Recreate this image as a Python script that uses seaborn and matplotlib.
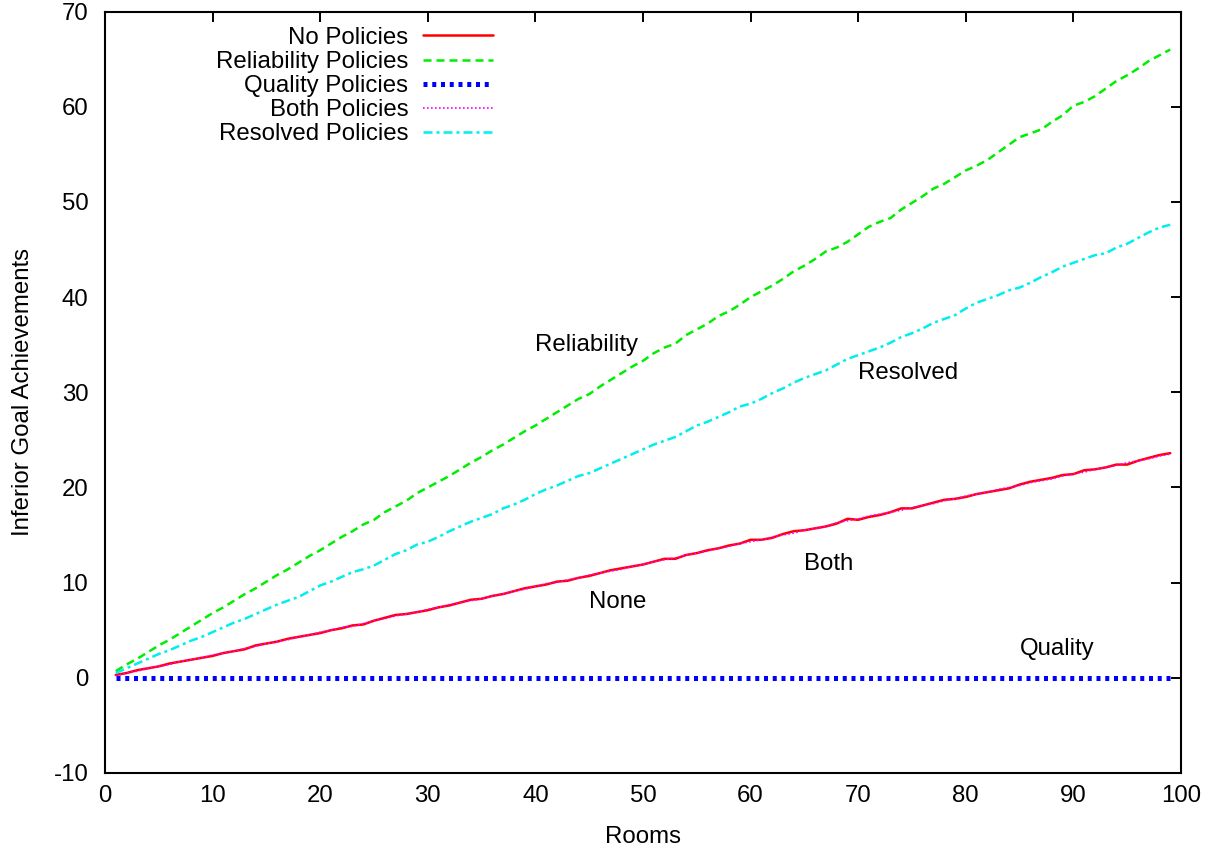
import numpy as np
import pandas as pd
import seaborn as sns
import matplotlib
matplotlib.use("Agg")
import matplotlib.pyplot as plt

sns.set_theme(style="white")
plt.rcParams["font.family"] = ["Liberation Sans", "DejaVu Sans"]
plt.rcParams["text.color"] = "black"
plt.rcParams["axes.labelcolor"] = "black"
plt.rcParams["axes.unicode_minus"] = False

rooms = list(range(1, 100))

no_policies = [
    0.3, 0.5, 0.8, 1.0, 1.2, 1.5, 1.7, 1.9, 2.1, 2.3,
    2.6, 2.8, 3.0, 3.4, 3.6, 3.8, 4.1, 4.3, 4.5, 4.7,
    5.0, 5.2, 5.5, 5.6, 6.0, 6.3, 6.6, 6.7, 6.9, 7.1,
    7.4, 7.6, 7.9, 8.2, 8.3, 8.6, 8.8, 9.1, 9.4, 9.6,
    9.8, 10.1, 10.2, 10.5, 10.7, 11.0, 11.3, 11.5, 11.7, 11.9,
    12.2, 12.5, 12.5, 12.9, 13.1, 13.4, 13.6, 13.9, 14.1, 14.5,
    14.5, 14.7, 15.1, 15.4, 15.5, 15.7, 15.9, 16.2, 16.7, 16.6,
    16.9, 17.1, 17.4, 17.8, 17.8, 18.1, 18.4, 18.7, 18.8, 19.0,
    19.3, 19.5, 19.7, 19.9, 20.3, 20.6, 20.8, 21.0, 21.3, 21.4,
    21.8, 21.9, 22.1, 22.4, 22.4, 22.8, 23.1, 23.4, 23.6,
]

reliability = [
    0.7, 1.4, 2.0, 2.7, 3.4, 4.0, 4.7, 5.4, 6.1, 6.8,
    7.4, 8.1, 8.8, 9.4, 10.1, 10.8, 11.4, 12.1, 12.8, 13.4,
    14.1, 14.8, 15.4, 16.1, 16.6, 17.4, 18.0, 18.6, 19.4, 20.0,
    20.6, 21.2, 21.9, 22.6, 23.2, 23.9, 24.5, 25.2, 25.9, 26.5,
    27.2, 27.9, 28.6, 29.3, 29.8, 30.6, 31.3, 32.0, 32.7, 33.3,
    34.1, 34.7, 35.1, 36.0, 36.6, 37.2, 38.0, 38.5, 39.2, 40.0,
    40.6, 41.2, 41.9, 42.7, 43.3, 44.0, 44.8, 45.2, 45.8, 46.6,
    47.4, 47.9, 48.3, 49.2, 49.9, 50.6, 51.4, 51.9, 52.6, 53.3,
    53.8, 54.4, 55.2, 56.0, 56.8, 57.2, 57.6, 58.4, 59.1, 60.1,
    60.5, 61.1, 61.9, 62.7, 63.3, 64.0, 64.8, 65.4, 66.0,
]

quality = [
    0, 0, 0, 0, 0, 0, 0, 0, 0, 0,
    0, 0, 0, 0, 0, 0, 0, 0, 0, 0,
    0, 0, 0, 0, 0, 0, 0, 0, 0, 0,
    0, 0, 0, 0, 0, 0, 0, 0, 0, 0,
    0, 0, 0, 0, 0, 0, 0, 0, 0, 0,
    0, 0, 0, 0, 0, 0, 0, 0, 0, 0,
    0, 0, 0, 0, 0, 0, 0, 0, 0, 0,
    0, 0, 0, 0, 0, 0, 0, 0, 0, 0,
    0, 0, 0, 0, 0, 0, 0, 0, 0, 0,
    0, 0, 0, 0, 0, 0, 0, 0, 0,
]

both = [
    0.2, 0.5, 0.7, 1.0, 1.2, 1.4, 1.7, 1.9, 2.1, 2.4,
    2.6, 2.8, 3.1, 3.3, 3.6, 3.8, 4.0, 4.3, 4.5, 4.8,
    5.0, 5.3, 5.4, 5.7, 6.0, 6.2, 6.5, 6.7, 6.9, 7.2,
    7.4, 7.7, 7.9, 8.1, 8.3, 8.6, 8.8, 9.1, 9.3, 9.6,
    9.9, 10.0, 10.3, 10.5, 10.8, 11.0, 11.2, 11.4, 11.7, 11.9,
    12.2, 12.4, 12.6, 12.9, 13.1, 13.3, 13.6, 13.8, 14.1, 14.3,
    14.5, 14.8, 15.0, 15.2, 15.5, 15.7, 15.9, 16.3, 16.5, 16.7,
    17.0, 17.2, 17.4, 17.6, 17.9, 18.1, 18.3, 18.6, 18.8, 19.1,
    19.3, 19.5, 19.8, 20.0, 20.2, 20.5, 20.7, 20.9, 21.2, 21.4,
    21.6, 21.9, 22.1, 22.3, 22.6, 22.8, 23.0, 23.3, 23.5,
]

resolved = [
    0.5, 1.0, 1.5, 2.0, 2.5, 2.9, 3.4, 3.9, 4.3, 4.8,
    5.3, 5.8, 6.2, 6.7, 7.2, 7.7, 8.1, 8.5, 9.1, 9.7,
    10.1, 10.6, 11.1, 11.4, 11.8, 12.4, 13.0, 13.4, 14.0, 14.3,
    14.8, 15.4, 15.9, 16.4, 16.8, 17.2, 17.8, 18.2, 18.7, 19.3,
    19.8, 20.2, 20.7, 21.2, 21.5, 22.0, 22.5, 23.0, 23.5, 24.0,
    24.5, 24.9, 25.3, 25.9, 26.5, 26.9, 27.4, 27.9, 28.5, 28.8,
    29.3, 29.9, 30.4, 31.0, 31.5, 31.9, 32.3, 32.9, 33.5, 33.9,
    34.3, 34.7, 35.2, 35.8, 36.2, 36.7, 37.3, 37.7, 38.1, 38.8,
    39.4, 39.8, 40.2, 40.7, 41.0, 41.5, 42.1, 42.6, 43.2, 43.6,
    44.0, 44.4, 44.6, 45.2, 45.6, 46.2, 46.8, 47.3, 47.6,
]

series_names = ["No Policies", "Reliability Policies", "Quality Policies",
                "Both Policies", "Resolved Policies"]
series_values = [no_policies, reliability, quality, both, resolved]

# (label text, x, y) placed left-aligned in data coordinates
curve_labels = [
    ("Reliability", 40, 35),
    ("Resolved", 70, 32),
    ("None", 45, 8),
    ("Both", 65, 12),
    ("Quality", 85, 3),
]

x_ticks = list(range(0, 101, 10))
y_ticks = list(range(-10, 71, 10))

FS = 17.3

styles = {
    "No Policies": dict(color="#ff0000", lw=1.8, dashes=None),
    "Reliability Policies": dict(color="#00ee00", lw=1.8, dashes=(3.2, 2.0)),
    "Quality Policies": dict(color="#0000ff", lw=3.6, dashes=(0.8, 0.95)),
    "Both Policies": dict(color="#ff00ff", lw=1.2, dashes=(1.0, 1.4)),
    "Resolved Policies": dict(color="#00eeee", lw=1.8, dashes=(3.6, 1.6, 1.2, 1.6)),
}

frames = []
for name, vals in zip(series_names, series_values):
    frames.append(pd.DataFrame({"Rooms": rooms, "value": vals, "series": name}))
df = pd.concat(frames, ignore_index=True)

fig = plt.figure(figsize=(12.14, 8.47), dpi=100)
ax = fig.add_axes([0.0865, 0.0874, 0.8863, 0.899])

for name in series_names:
    st = styles[name]
    sub = df[df["series"] == name]
    sns.lineplot(data=sub, x="Rooms", y="value", ax=ax, color=st["color"],
                 linewidth=st["lw"], label=name, errorbar=None)
    line = ax.lines[-1]
    if st["dashes"] is not None:
        line.set_dashes(st["dashes"])
        line.set_dash_capstyle("butt")

ax.set_xlim(0, 100)
ax.set_ylim(-10, 70)
ax.set_xticks(x_ticks)
ax.set_yticks(y_ticks)
ax.tick_params(direction="in", length=7.5, width=1.4, top=True, right=True,
               labelsize=FS, colors="black")
ax.tick_params(axis="x", pad=9)
ax.tick_params(axis="y", pad=12)
for sp in ax.spines.values():
    sp.set_color("black")
    sp.set_linewidth(1.5)

ax.set_xlabel("Rooms", fontsize=FS, labelpad=13)
ax.set_ylabel("Inferior Goal Achievements", fontsize=FS, labelpad=14)

for text, x, y in curve_labels:
    ax.text(x, y, text, fontsize=FS, ha="left", va="center")

ax.legend(loc="upper left", bbox_to_anchor=(0.103, 0.98), frameon=False,
          markerfirst=False, fontsize=FS, handlelength=2.9,
          labelspacing=0.09, handletextpad=0.62, borderaxespad=0.0,
          borderpad=0.0)

fig.savefig("out.png", dpi=100, facecolor="white")
